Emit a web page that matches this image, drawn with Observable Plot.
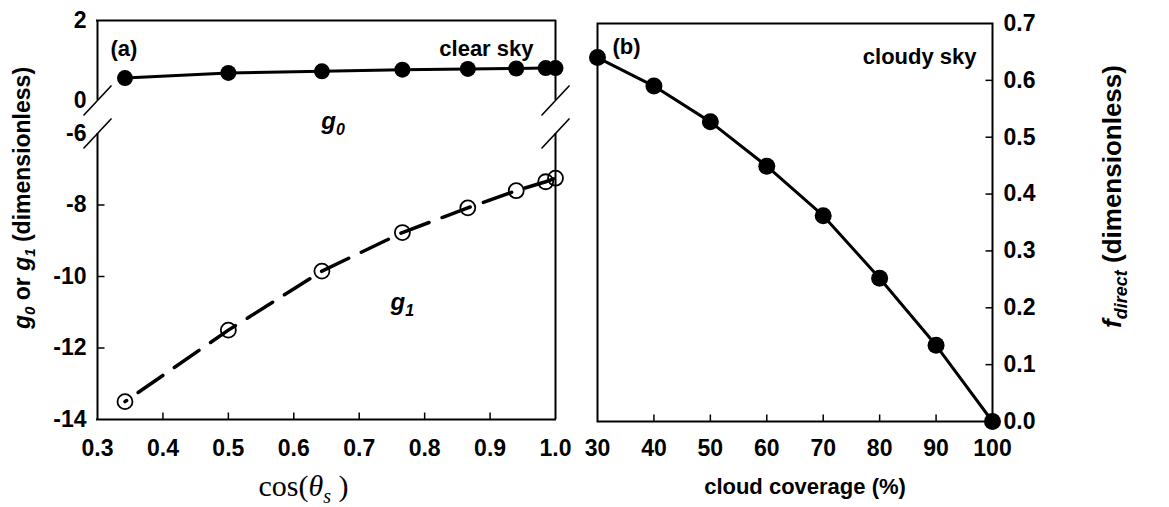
<!DOCTYPE html>
<html>
<head>
<meta charset="utf-8">
<script src="https://cdn.jsdelivr.net/npm/d3@7"></script>
<script src="https://cdn.jsdelivr.net/npm/@observablehq/plot@0.6"></script>
<style>
  body { margin: 0; background: #fff; }
  #chart { position: relative; width: 1169px; height: 507px; background: #fff; }
  #chart svg { position: absolute; left: 0; top: 0; }
</style>
</head>
<body>
<div id="chart"></div>
<script>
// ---------- data ----------
const cosTheta = [0.342, 0.500, 0.643, 0.766, 0.866, 0.940, 0.985, 1.000];
const g0 = [0.56, 0.69, 0.73, 0.77, 0.79, 0.80, 0.81, 0.81];
const g1 = [-13.5, -11.5, -9.85, -8.77, -8.08, -7.60, -7.35, -7.25];

const cloudCoverage = [30, 40, 50, 60, 70, 80, 90, 100];
const fDirect = [0.640, 0.590, 0.527, 0.449, 0.362, 0.252, 0.134, 0.000];

const xTicksA = [0.3, 0.4, 0.5, 0.6, 0.7, 0.8, 0.9, 1.0];
const yTicksA = [2, 0, -6, -8, -10, -12, -14];
const yBreakA = [0, -6];          // axis broken between these values
const xTicksB = [30, 40, 50, 60, 70, 80, 90, 100];
const yTicksB = [0, 0.1, 0.2, 0.3, 0.4, 0.5, 0.6, 0.7];

// ---------- tables ----------
const tableA = cosTheta.map((c, i) => ({c, g0: g0[i], g1: g1[i]}));
const tableB = cloudCoverage.map((c, i) => ({c, f: fDirect[i]}));
const xEdgesA = [xTicksA[0], xTicksA[xTicksA.length - 1]];
const yTopA = yTicksA[0], yBotA = yTicksA[yTicksA.length - 1];
const frameSegsA = xEdgesA.flatMap(x => [
  {x, y1: yBreakA[0], y2: yTopA},
  {x, y1: yBotA, y2: yBreakA[1]}
]);
const breakPtsA = xEdgesA.flatMap(x => yBreakA.map(y => ({x, y})));

// ---------- styles ----------
const sans = "'Liberation Sans', Arial, Helvetica, sans-serif";
const serif = "'Liberation Serif', 'Times New Roman', serif";
const FS = 23;
const tickUp = {draw(c) { c.moveTo(0, 0); c.lineTo(0, -7); }};
const tickInR = {draw(c) { c.moveTo(0, 0); c.lineTo(7, 0); }};
const tickInL = {draw(c) { c.moveTo(0, 0); c.lineTo(-7, 0); }};
const slash = {draw(c) { c.moveTo(-14, 15); c.lineTo(14, -15); }};
const W = 1169, H = 507;

// ---------- panel (a) ----------
const A = Plot.plot({
  width: W, height: H,
  marginLeft: 97, marginRight: W - 555, marginTop: 20, marginBottom: H - 419,
  style: {background: "transparent", fontFamily: sans, overflow: "visible"},
  x: {domain: [0.3, 1.0], axis: null},
  y: {type: "linear", domain: [yBotA, yBreakA[1], yBreakA[0], yTopA], range: [419, 133, 100, 20], axis: null},
  marks: [
    Plot.ruleY([yTopA], {stroke: "black", strokeWidth: 2, strokeLinecap: "square"}),
    Plot.ruleY([yBotA], {stroke: "black", strokeWidth: 2, strokeLinecap: "square"}),
    Plot.ruleX(frameSegsA, {x: "x", y1: "y1", y2: "y2", stroke: "black", strokeWidth: 2}),
    Plot.dot(breakPtsA, {x: "x", y: "y", symbol: slash, fill: "none", stroke: "black", strokeWidth: 1.6}),
    Plot.dot(xTicksA.slice(1, -1), {x: d => d, frameAnchor: "bottom", symbol: tickUp, fill: "none", stroke: "black", strokeWidth: 1.5}),
    Plot.dot(yTicksA.slice(3, -1), {y: d => d, frameAnchor: "left", symbol: tickInR, fill: "none", stroke: "black", strokeWidth: 1.5}),
    Plot.axisX(xTicksA, {anchor: "bottom", tickSize: 0, tickPadding: 20, tickFormat: d3.format(".1f"),
      fontSize: FS, fontWeight: "bold", label: null}),
    Plot.axisY(yTicksA, {anchor: "left", tickSize: 0, tickPadding: 11, tickFormat: d => String(d),
      fontSize: FS, fontWeight: "bold", label: null}),
    // g0 : solid line with filled dots
    Plot.line(tableA, {x: "c", y: "g0", stroke: "black", strokeWidth: 3}),
    Plot.dot(tableA, {x: "c", y: "g0", r: 8, fill: "black"}),
    // g1 : dashed line with open circles
    Plot.line(tableA, {x: "c", y: "g1", stroke: "black", strokeWidth: 3.5, strokeDasharray: "30,14", strokeDashoffset: 28}),
    Plot.dot(tableA, {x: "c", y: "g1", r: 7.5, fill: "none", stroke: "black", strokeWidth: 1.8}),
    // annotations
    Plot.text(["(a)"], {text: d => d, frameAnchor: "top-left", dx: 13, dy: 28, textAnchor: "start", lineAnchor: "middle", fontSize: 22, fontWeight: "bold"}),
    Plot.text(["clear sky"], {text: d => d, frameAnchor: "top-right", dx: -22, dy: 28, textAnchor: "end", lineAnchor: "middle", fontSize: 22, fontWeight: "bold"}),
    Plot.text(["g0"], {text: d => d, x: 0.66, y: yBreakA[1], dy: -12, lineAnchor: "middle", fontSize: 24, fontWeight: "bold"}),
    Plot.text(["g1"], {text: d => d, x: 0.766, y: -10.8, dy: -3, lineAnchor: "middle", fontSize: 24, fontWeight: "bold"}),
    Plot.text(["g0 or g1 (dimensionless)"], {text: d => d, frameAnchor: "left", dx: -75, dy: -22, rotate: -90, textAnchor: "middle", lineAnchor: "middle", fontSize: FS, fontWeight: "bold"}),
    Plot.text(["cos(θs)"], {text: d => d, frameAnchor: "bottom", dx: -23, dy: 67, textAnchor: "middle", lineAnchor: "middle", fontSize: 30, fontFamily: serif, fontWeight: "normal"})
  ]
});

// ---------- panel (b) ----------
const B = Plot.plot({
  width: W, height: H,
  marginLeft: 597, marginRight: W - 992, marginTop: 23, marginBottom: H - 421,
  style: {background: "transparent", fontFamily: sans, overflow: "visible"},
  x: {domain: [30, 100], axis: null},
  y: {domain: [0, 0.7], axis: null},
  marks: [
    Plot.frame({stroke: "black", strokeWidth: 2}),
    Plot.dot(xTicksB.slice(1, -1), {x: d => d, frameAnchor: "bottom", symbol: tickUp, fill: "none", stroke: "black", strokeWidth: 1.5}),
    Plot.dot(yTicksB.slice(1, -1), {y: d => d, frameAnchor: "right", symbol: tickInL, fill: "none", stroke: "black", strokeWidth: 1.5}),
    Plot.axisX(xTicksB, {anchor: "bottom", tickSize: 0, tickPadding: 18, tickFormat: d => String(d),
      fontSize: FS, fontWeight: "bold", label: null}),
    Plot.axisY(yTicksB, {anchor: "right", tickSize: 0, tickPadding: 11, tickFormat: d3.format(".1f"),
      fontSize: FS, fontWeight: "bold", label: null}),
    Plot.line(tableB, {x: "c", y: "f", stroke: "black", strokeWidth: 3}),
    Plot.dot(tableB, {x: "c", y: "f", r: 8.5, fill: "black"}),
    Plot.text(["(b)"], {text: d => d, frameAnchor: "top-left", dx: 15, dy: 23, textAnchor: "start", lineAnchor: "middle", fontSize: 22, fontWeight: "bold"}),
    Plot.text(["cloudy sky"], {text: d => d, frameAnchor: "top-right", dx: -16, dy: 33, textAnchor: "end", lineAnchor: "middle", fontSize: 22, fontWeight: "bold"}),
    Plot.text(["fdirect (dimensionless)"], {text: d => d, frameAnchor: "right", dx: 120, dy: -26, rotate: -90, textAnchor: "middle", lineAnchor: "middle", fontSize: 26, fontWeight: "bold"}),
    Plot.text(["cloud coverage (%)"], {text: d => d, frameAnchor: "bottom", dx: 10, dy: 65, textAnchor: "middle", lineAnchor: "middle", fontSize: 22, fontWeight: "bold"})
  ]
});

// ---------- rich text (italics, subscripts) ----------
function it(s, t) { return s.append("tspan").attr("font-style", "italic").text(t); }
function sub(s, t, size, d) { return s.append("tspan").attr("font-style", "italic").attr("font-size", size).attr("dy", d).text(t); }
function plain(s, t, d) { const ts = s.append("tspan").text(t); if (d) ts.attr("dy", d); return ts; }
const rich = {
  "g0": s => { it(s, "g"); sub(s, "0", 16, 6); },
  "g1": s => { it(s, "g"); sub(s, "1", 16, 6); },
  "g0 or g1 (dimensionless)": s => {
    it(s, "g"); sub(s, "0", 15, 5); plain(s, " or ", -5); it(s, "g"); sub(s, "1", 15, 5); plain(s, " (dimensionless)", -5);
  },
  "fdirect (dimensionless)": s => {
    it(s, "f"); sub(s, "direct", 18, 6); plain(s, " (dimensionless)", -6);
  },
  "cos(θs)": s => {
    plain(s, "cos("); it(s, "θ"); s.append("tspan").attr("font-style", "italic").attr("font-size", 20).attr("dy", 7).text("s");
    plain(s, " )", -7);
  }
};
function applyRich(svg) {
  d3.select(svg).selectAll("text").each(function () {
    const f = rich[this.textContent];
    if (f) { const s = d3.select(this); s.text(null); f(s); }
  });
}
applyRich(A); applyRich(B);

const chart = document.getElementById("chart");
chart.appendChild(A);
chart.appendChild(B);
</script>
</body>
</html>
